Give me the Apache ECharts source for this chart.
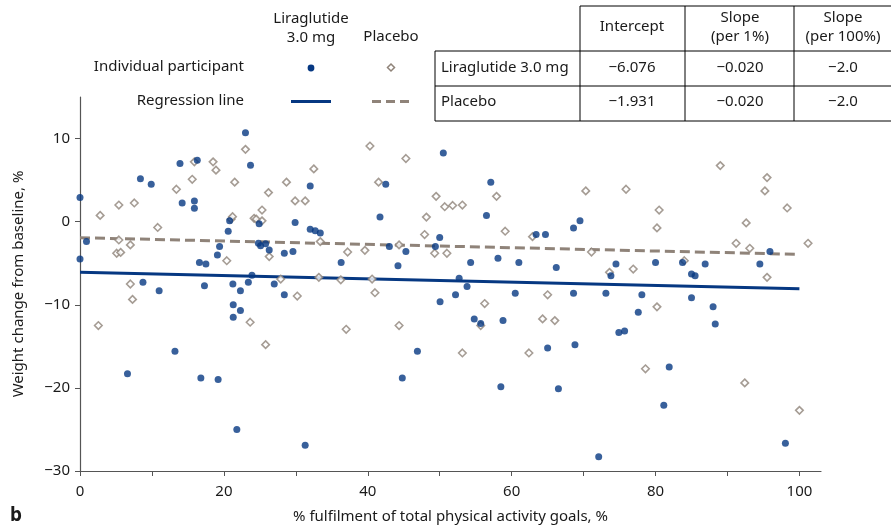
<!DOCTYPE html>
<html>
<head>
<meta charset="utf-8">
<script src="https://cdn.jsdelivr.net/npm/echarts@6/dist/echarts.min.js"></script>
<style>
  html, body { margin: 0; padding: 0; background: #fff; }
  #main { width: 891px; height: 532px; }
</style>
</head>
<body>
<div id="main"></div>
<script>
// axis ticks
var xTicks = [0, 10, 20, 30, 40, 50, 60, 70, 80, 90, 100];
var xLabels = [0, 20, 40, 60, 80, 100];
var yTicks = [-30, -20, -10, 0, 10];

// regression table
var groups = ['Liraglutide 3.0 mg', 'Placebo'];
var intercepts = ['\u22126.076', '\u22121.931'];
var slopes1 = ['\u22120.020', '\u22120.020'];
var slopes100 = ['\u22122.0', '\u22122.0'];

// regression lines (from intercept and slope, x 0..100)
var liraLine = [[0, -6.076], [100, -8.076]];
var placeboLine = [[0, -1.931], [100, -3.931]];

// individual participants: [fulfilment %, weight change %]
var liraPoints = [
  [0, 2.9], [0.9, -2.4], [0, -4.5], [8.4, 5.15], [9.9, 4.5], [13.9, 7.0], [14.2, 2.25],
  [15.9, 2.5], [15.9, 1.6], [16.3, 7.4], [16.6, -4.9], [17.5, -5.1], [20.6, -1.15],
  [19.4, -3.0], [19.1, -4.0], [20.8, 0.1], [23.0, 10.7], [23.7, 6.8], [24.8, -2.6],
  [25.1, -2.9], [25.8, -2.65], [23.9, -6.45], [8.75, -7.3], [11.0, -8.3], [17.3, -7.7],
  [21.25, -7.5], [22.3, -8.3], [23.4, -7.3], [24.9, -0.25], [26.3, -3.4], [27.0, -7.5],
  [28.4, -8.8], [28.4, -3.8], [29.6, -3.6], [29.9, -0.1], [32.0, 4.3], [32.0, -0.9],
  [32.7, -1.1], [33.4, -1.35], [36.3, -4.9], [41.7, 0.55], [42.5, 4.5], [43.0, -3.0],
  [44.2, -5.3], [45.3, -3.6], [49.4, -3.0], [50.0, -1.9], [50.5, 8.25], [54.3, -4.9],
  [52.7, -6.8], [53.8, -7.8], [52.2, -8.8], [57.1, 4.75], [56.5, 0.75], [58.1, -4.4],
  [61.0, -4.9], [60.5, -8.6], [63.4, -1.55], [64.7, -1.55], [66.2, -5.5], [68.6, -0.75],
  [69.5, 0.1], [68.6, -8.6], [73.1, -8.6], [73.8, -6.5], [74.5, -5.1], [78.1, -8.8],
  [80.0, -4.9], [83.75, -4.9], [85.0, -6.3], [85.5, -6.5], [85.0, -9.15], [86.9, -5.1],
  [94.5, -5.1], [95.9, -3.6], [21.3, -10.0], [22.3, -10.7], [21.3, -11.5], [13.2, -15.6],
  [6.6, -18.3], [16.8, -18.8], [19.2, -19.0], [21.8, -25.0], [31.3, -26.9], [50.05, -9.65],
  [54.8, -11.7], [55.7, -12.25], [58.8, -11.9], [46.9, -15.6], [44.8, -18.8], [58.5, -19.85],
  [65.0, -15.2], [66.5, -20.1], [77.6, -10.9], [74.9, -13.35], [75.7, -13.15], [68.8, -14.8],
  [72.1, -28.3], [81.9, -17.5], [81.15, -22.1], [88.0, -10.25], [88.3, -12.3], [98.05, -26.65]
];
var placeboPoints = [
  [2.8, 0.75], [5.4, 2.0], [7.55, 2.25], [5.4, -2.2], [5.1, -3.8], [5.65, -3.7], [7.0, -2.8],
  [10.8, -0.7], [13.4, 3.9], [15.6, 5.1], [15.9, 7.2], [18.5, 7.2], [18.9, 6.2], [21.5, 4.75],
  [20.4, -4.7], [21.0, 0.3], [21.2, 0.6], [23.0, 8.7], [24.2, 0.4], [24.5, 0.3], [7.0, -7.5],
  [7.3, -9.35], [25.3, 0.1], [25.3, 1.4], [26.2, 3.5], [26.3, -4.2], [28.7, 4.75], [29.9, 2.5],
  [31.3, 2.5], [32.5, 6.35], [27.9, -6.9], [30.2, -8.95], [33.2, -6.7], [33.4, -2.4],
  [36.25, -7.0], [37.2, -3.65], [39.6, -3.45], [40.3, 9.1], [41.5, 4.75], [40.6, -6.9],
  [41.0, -8.55], [44.35, -2.8], [45.3, 7.6], [48.15, 0.55], [47.9, -1.55], [49.3, -3.8],
  [49.5, 3.05], [51.0, -3.8], [50.7, 1.8], [51.8, 1.95], [53.15, 2.0], [57.9, 3.05],
  [59.1, -1.15], [62.9, -1.8], [65.0, -8.8], [70.3, 3.7], [71.1, -3.65], [73.6, -6.1],
  [75.9, 3.9], [76.9, -5.7], [80.5, 1.4], [80.2, -0.75], [84.0, -4.7], [89.0, 6.75],
  [91.2, -2.6], [92.6, -0.15], [93.1, -3.2], [95.5, 5.3], [95.2, 3.7], [98.3, 1.65],
  [95.5, -6.7], [101.2, -2.6], [2.55, -12.5], [23.65, -12.1], [25.8, -14.8], [37.0, -12.95],
  [44.35, -12.5], [55.7, -12.5], [56.25, -9.85], [53.15, -15.8], [62.4, -15.8], [64.3, -11.7],
  [66.0, -11.9], [80.2, -10.25], [78.6, -17.7], [92.4, -19.4], [100.0, -22.7]
];

var BLUE = '#063882';
var GREY = '#8f8379';
var FONT = '"Noto Sans", sans-serif';

function txt(s, x, y, align, extra) {
  var o = {
    type: 'text', silent: true,
    style: { text: s, x: x, y: y, textAlign: align || 'center', textVerticalAlign: 'middle',
      font: '15px ' + FONT, fill: '#1a1a1a', lineHeight: 19 }
  };
  if (extra) for (var k in extra) o.style[k] = extra[k];
  return o;
}
function hline(x1, x2, y) {
  return { type: 'line', silent: true, shape: { x1: x1, y1: y, x2: x2, y2: y }, style: { stroke: '#000', lineWidth: 1 } };
}
function vline(x, y1, y2) {
  return { type: 'line', silent: true, shape: { x1: x, y1: y1, x2: x, y2: y2 }, style: { stroke: '#000', lineWidth: 1 } };
}

var graphics = [];
// legend block
graphics.push(txt('Liraglutide\n3.0 mg', 311, 28));
graphics.push(txt('Placebo', 391, 37));
graphics.push(txt('Individual participant', 244, 67, 'right'));
graphics.push(txt('Regression line', 244, 101, 'right'));
graphics.push({ type: 'circle', silent: true, shape: { cx: 311, cy: 68, r: 3.4 }, style: { fill: BLUE } });
graphics.push({ type: 'polygon', silent: true, shape: { points: [[391, 64], [394.5, 67.5], [391, 71], [387.5, 67.5]] },
  style: { fill: '#fff', stroke: GREY, lineWidth: 1.5 } });
graphics.push({ type: 'line', silent: true, shape: { x1: 291, y1: 101.5, x2: 331, y2: 101.5 }, style: { stroke: BLUE, lineWidth: 3 } });
graphics.push({ type: 'line', silent: true, shape: { x1: 372, y1: 101.5, x2: 409, y2: 101.5 }, style: { stroke: GREY, lineWidth: 3, lineDash: [9, 5] } });

// table
var colX = [632, 740, 843];
graphics.push(hline(580, 891, 6));
graphics.push(hline(435, 891, 51));
graphics.push(hline(435, 891, 86));
graphics.push(hline(435, 891, 121));
graphics.push(vline(435, 51, 121));
graphics.push(vline(580, 6, 121));
graphics.push(vline(685, 6, 121));
graphics.push(vline(794, 6, 121));
graphics.push(txt('Intercept', colX[0], 27));
graphics.push(txt('Slope\n(per 1%)', colX[1], 27));
graphics.push(txt('Slope\n(per 100%)', colX[2], 27));
var rowY = [68, 102];
groups.forEach(function (g, i) {
  graphics.push(txt(g, 441, rowY[i], 'left'));
  graphics.push(txt(intercepts[i], colX[0], rowY[i]));
  graphics.push(txt(slopes1[i], colX[1], rowY[i]));
  graphics.push(txt(slopes100[i], colX[2], rowY[i]));
});
graphics.push(txt('b', 16, 516, 'center', { font: 'bold 19px ' + FONT }));

var chart = echarts.init(document.getElementById('main'));
chart.setOption({
  animation: false,
  backgroundColor: '#fff',
  grid: { left: 80, right: 70, top: 97, bottom: 61 },
  xAxis: {
    type: 'value', min: 0, max: 103,
    name: '% fulfilment of total physical activity goals, %',
    nameLocation: 'middle', nameGap: 38,
    nameTextStyle: { fontFamily: FONT, fontSize: 15, color: '#1a1a1a' },
    axisLine: { onZero: false, lineStyle: { color: '#555', width: 1.2 } },
    axisTick: { show: true, length: 5, customValues: xTicks, lineStyle: { color: '#555' } },
    axisLabel: { customValues: xLabels, margin: 13, fontFamily: FONT, fontSize: 15, color: '#1a1a1a' },
    splitLine: { show: false }
  },
  yAxis: {
    type: 'value', min: -30, max: 15,
    name: 'Weight change from baseline, %',
    nameLocation: 'middle', nameGap: 54,
    nameTextStyle: { fontFamily: FONT, fontSize: 15, color: '#1a1a1a' },
    axisLine: { show: true, onZero: false, lineStyle: { color: '#555', width: 1.2 } },
    axisTick: { show: true, length: 5, customValues: yTicks, lineStyle: { color: '#555' } },
    axisLabel: { customValues: yTicks, margin: 10, fontFamily: FONT, fontSize: 15, color: '#1a1a1a',
      formatter: function (v) { return String(v).replace('-', '\u2212'); } },
    splitLine: { show: false }
  },
  series: [
    { type: 'line', data: placeboLine, symbol: 'none', z: 2,
      lineStyle: { color: GREY, width: 3, type: [10, 5] } },
    { type: 'line', data: liraLine, symbol: 'none', z: 2,
      lineStyle: { color: BLUE, width: 3 } },
    { type: 'scatter', data: placeboPoints, symbol: 'diamond', symbolSize: [7.5, 7.5], z: 3, clip: false,
      itemStyle: { color: '#fff', borderColor: GREY, borderWidth: 1.6 } },
    { type: 'scatter', data: liraPoints, symbol: 'circle', symbolSize: 7, z: 4, clip: false,
      itemStyle: { color: BLUE } }
  ],
  graphic: graphics
});
</script>
</body>
</html>
